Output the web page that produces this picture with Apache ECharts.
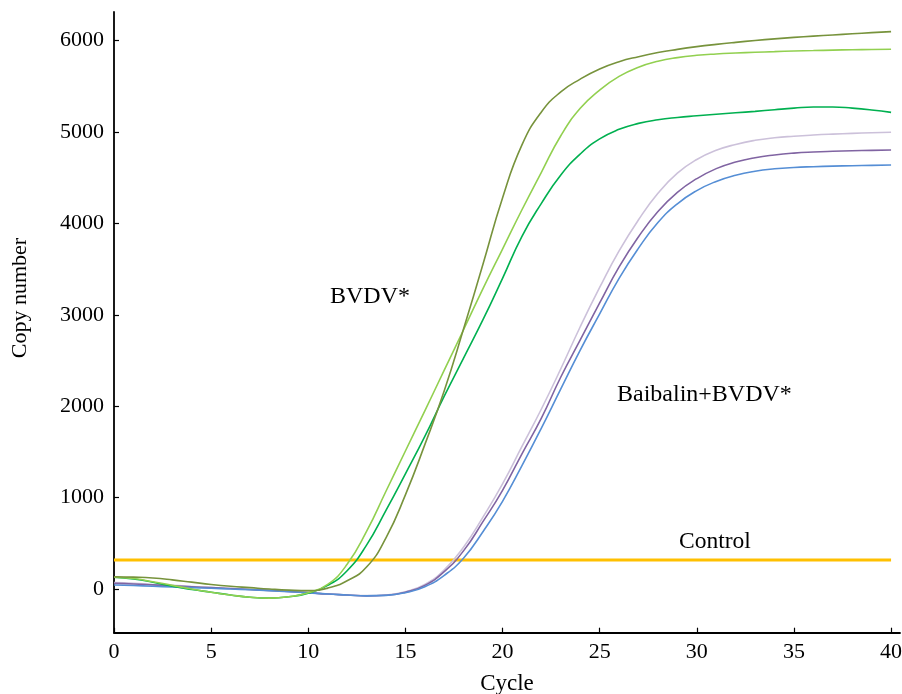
<!DOCTYPE html>
<html>
<head>
<meta charset="utf-8">
<script src="https://cdn.jsdelivr.net/npm/echarts@6/dist/echarts.min.js"></script>
<style>html,body{margin:0;padding:0;background:#fff;overflow:hidden;}#c{width:902px;height:694px;}</style>
</head>
<body>
<div id="c"></div>
<script>
const cycles = [0,1,2,3,4,5,6,7,8,9,10,11,12,13,14,15,16,17,18,19,20,21,22,23,24,25,26,27,28,29,30,31,32,33,34,35,36,37,38,39,40];
const xTicks = [0,5,10,15,20,25,30,35,40];
const yTicks = [0,1000,2000,3000,4000,5000,6000];

const bvdvOlive = [135,130,120,100,75,50,30,15,0,-12,-18,10,90,240,560,1030,1580,2170,2850,3560,4280,4860,5220,5440,5580,5690,5770,5825,5870,5905,5935,5960,5982,6002,6020,6036,6050,6063,6076,6088,6099];
const bvdvLight = [130,115,80,40,0,-35,-65,-90,-100,-85,-40,50,270,630,1070,1510,1950,2395,2840,3290,3720,4150,4560,4960,5260,5460,5610,5710,5775,5815,5840,5855,5865,5873,5880,5887,5892,5897,5901,5904,5906];
const bvdvGreen = [128,110,75,30,-5,-35,-65,-90,-100,-85,-45,40,200,480,860,1260,1670,2110,2530,2950,3400,3860,4220,4530,4760,4925,5030,5095,5135,5160,5178,5195,5211,5227,5245,5262,5275,5275,5262,5242,5216];
const baiLavender = [70,62,50,40,28,15,5,-5,-15,-28,-40,-55,-65,-72,-65,-30,50,210,460,790,1150,1560,1970,2410,2870,3300,3700,4040,4330,4550,4700,4800,4865,4910,4938,4955,4968,4978,4986,4993,4998];
const baiPurple = [62,55,45,35,25,15,5,-5,-15,-28,-40,-55,-65,-75,-68,-35,40,190,420,740,1080,1480,1870,2320,2725,3130,3525,3855,4130,4340,4490,4600,4672,4720,4750,4770,4782,4790,4796,4800,4804];
const baiBlue = [44,38,30,22,15,8,0,-8,-18,-30,-42,-55,-65,-75,-70,-40,25,150,340,630,960,1350,1760,2190,2615,3010,3400,3730,4010,4215,4360,4460,4528,4572,4598,4613,4621,4627,4632,4636,4640];
const controlValues = [317,317,317,317,317,317,317,317,317,317,317,317,317,317,317,317,317,317,317,317,317,317,317,317,317,317,317,317,317,317,317,317,317,317,317,317,317,317,317,317,317];

const FONT = 'Liberation Serif';
const chart = echarts.init(document.getElementById('c'), null, {renderer: 'canvas'});

function mk(name, vals, color, width, z) {
  return {
    name: name, type: 'line', showSymbol: false, smooth: true, z: z,
    data: cycles.map((c, i) => [c, vals[i]]),
    lineStyle: {color: color, width: width}, itemStyle: {color: color},
    emphasis: {disabled: true}
  };
}

chart.setOption({
  animation: false,
  backgroundColor: '#fff',
  grid: {left: 114, right: 2, top: 12, bottom: 61.3, containLabel: false, outerBoundsMode: 'none'},
  xAxis: {
    type: 'value', min: 0, max: 40.46,
    name: 'Cycle', nameLocation: 'middle', nameGap: 40,
    nameTextStyle: {fontFamily: FONT, fontSize: 23, color: '#000'},
    axisLine: {show: true, onZero: false, lineStyle: {color: '#000', width: 1.8}},
    axisTick: {show: true, inside: true, length: 5, customValues: xTicks, lineStyle: {color: '#000', width: 1.2}},
    axisLabel: {customValues: xTicks, fontFamily: FONT, fontSize: 22, color: '#000', margin: 9},
    splitLine: {show: false}
  },
  yAxis: {
    type: 'value', min: -478, max: 6314,
    axisLine: {show: true, onZero: false, lineStyle: {color: '#000', width: 1.8}},
    axisTick: {show: true, inside: true, length: 5, customValues: yTicks, lineStyle: {color: '#000', width: 1.2}},
    axisLabel: {customValues: yTicks, formatter: function (v) { return String(v); }, fontFamily: FONT, fontSize: 22, color: '#000', margin: 10},
    splitLine: {show: false}
  },
  graphic: [
    {type: 'text', x: 20, y: 298, rotation: Math.PI / 2,
     style: {text: 'Copy number', fontFamily: FONT, fontSize: 22, fill: '#000', align: 'center', verticalAlign: 'middle'}},
    {type: 'text', x: 330, y: 297,
     style: {text: 'BVDV*', fontFamily: FONT, fontSize: 24, fill: '#000', align: 'left', verticalAlign: 'middle'}},
    {type: 'text', x: 617, y: 395,
     style: {text: 'Baibalin+BVDV*', fontFamily: FONT, fontSize: 24, fill: '#000', align: 'left', verticalAlign: 'middle'}},
    {type: 'text', x: 679, y: 542,
     style: {text: 'Control', fontFamily: FONT, fontSize: 23.5, fill: '#000', align: 'left', verticalAlign: 'middle'}}
  ],
  series: [
    mk('Control', controlValues, '#FFC000', 3, 2),
    mk('Baibalin 1', baiLavender, '#CCC1DA', 1.6, 3),
    mk('Baibalin 2', baiPurple, '#8064A2', 1.6, 4),
    mk('Baibalin 3', baiBlue, '#558ED5', 1.6, 5),
    mk('BVDV 1', bvdvGreen, '#00B050', 1.6, 6),
    mk('BVDV 2', bvdvLight, '#92D050', 1.6, 7),
    mk('BVDV 3', bvdvOlive, '#77933C', 1.6, 8)
  ]
});
</script>
</body>
</html>
